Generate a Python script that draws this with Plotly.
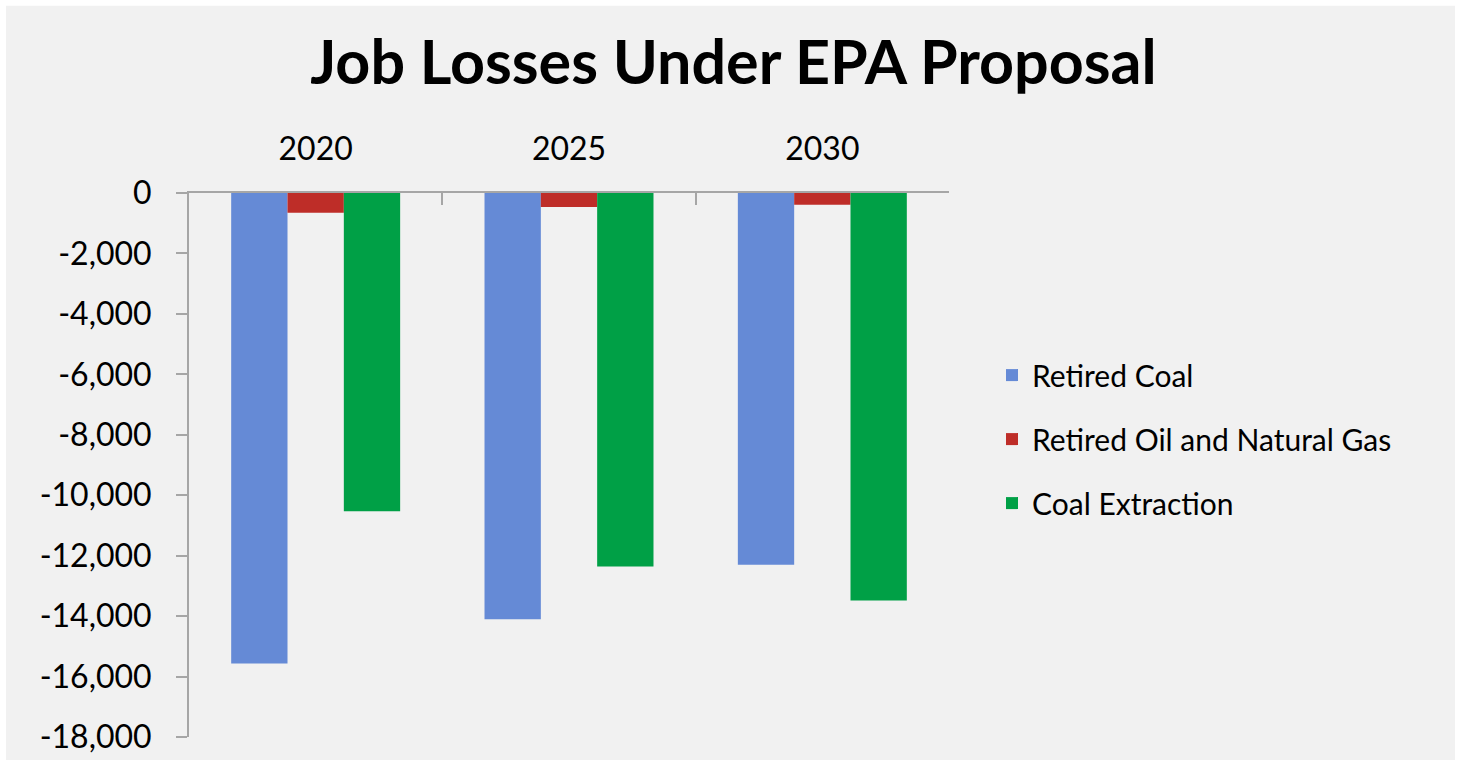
import plotly.graph_objects as go

years = ["2020", "2025", "2030"]
retired_coal = [-15570, -14100, -12300]
retired_oil_gas = [-650, -460, -390]
coal_extraction = [-10530, -12360, -13480]

y_tick_values = [0, -2000, -4000, -6000, -8000, -10000, -12000, -14000, -16000, -18000]
y_tick_labels = ["0", "-2,000", "-4,000", "-6,000", "-8,000", "-10,000", "-12,000",
                 "-14,000", "-16,000", "-18,000"]

series_names = ["Retired Coal", "Retired Oil and Natural Gas", "Coal Extraction"]
series_colors = ["#658AD6", "#BE2D28", "#00A046"]
series_values = [retired_coal, retired_oil_gas, coal_extraction]

W, H = 1461, 767
L, R, T, B = 189, 949, 193, 739  # plot area pixel bounds

fig = go.Figure()
for i, (name, vals, col) in enumerate(zip(series_names, series_values, series_colors)):
    fig.add_trace(go.Bar(
        x=years, y=vals, name=name, marker=dict(color=col, line=dict(width=0)),
        legendgroup=str(i),
    ))

pw, ph = R - L, B - T
fig.add_shape(type="rect", xref="paper", yref="paper",
              x0=(6 - L) / pw, x1=(1455 - L) / pw,
              y0=(B - 762) / ph, y1=(B - 5) / ph,
              fillcolor="#F1F1F1", line=dict(width=0), layer="below")

axis_col = "#A6A6A6"
fig.update_layout(
    width=W, height=H,
    margin=dict(l=L, r=W - R, t=T, b=H - B, pad=0),
    paper_bgcolor="white",
    plot_bgcolor="rgba(0,0,0,0)",
    barmode="group", bargap=0.333, bargroupgap=0,
    font=dict(family="Lato", color="black", size=30),
    title=dict(text="<b>Job Losses Under EPA Proposal</b>", x=0.502, xref="container",
               xanchor="center", y=1 - 63 / H, yref="container", yanchor="middle",
               font=dict(family="Lato", size=61, color="black")),
    showlegend=True,
    legend=dict(x=(1004 - L - 12) / pw, xanchor="left", y=(B - 440) / ph, yanchor="middle",
                font=dict(family="Lato", size=30, color="black"),
                tracegroupgap=22, bgcolor="rgba(0,0,0,0)", traceorder="grouped"),
    xaxis=dict(side="top", showline=True, linecolor=axis_col, linewidth=2,
               ticks="inside", tickson="boundaries", ticklen=12, tickcolor=axis_col,
               tickwidth=2, showgrid=False, zeroline=False,
               tickfont=dict(family="Lato", size=32, color="black"),
               ticklabelstandoff=18),
    yaxis=dict(range=[-18000, 0], tickmode="array", tickvals=y_tick_values,
               ticktext=y_tick_labels, showline=True,
               linecolor=axis_col, linewidth=2, ticks="outside", ticklen=11,
               tickcolor=axis_col, tickwidth=2, showgrid=False, zeroline=False,
               tickfont=dict(family="Lato", size=32, color="black"),
               ticklabelstandoff=18),
)

fig.write_html("out.html")
